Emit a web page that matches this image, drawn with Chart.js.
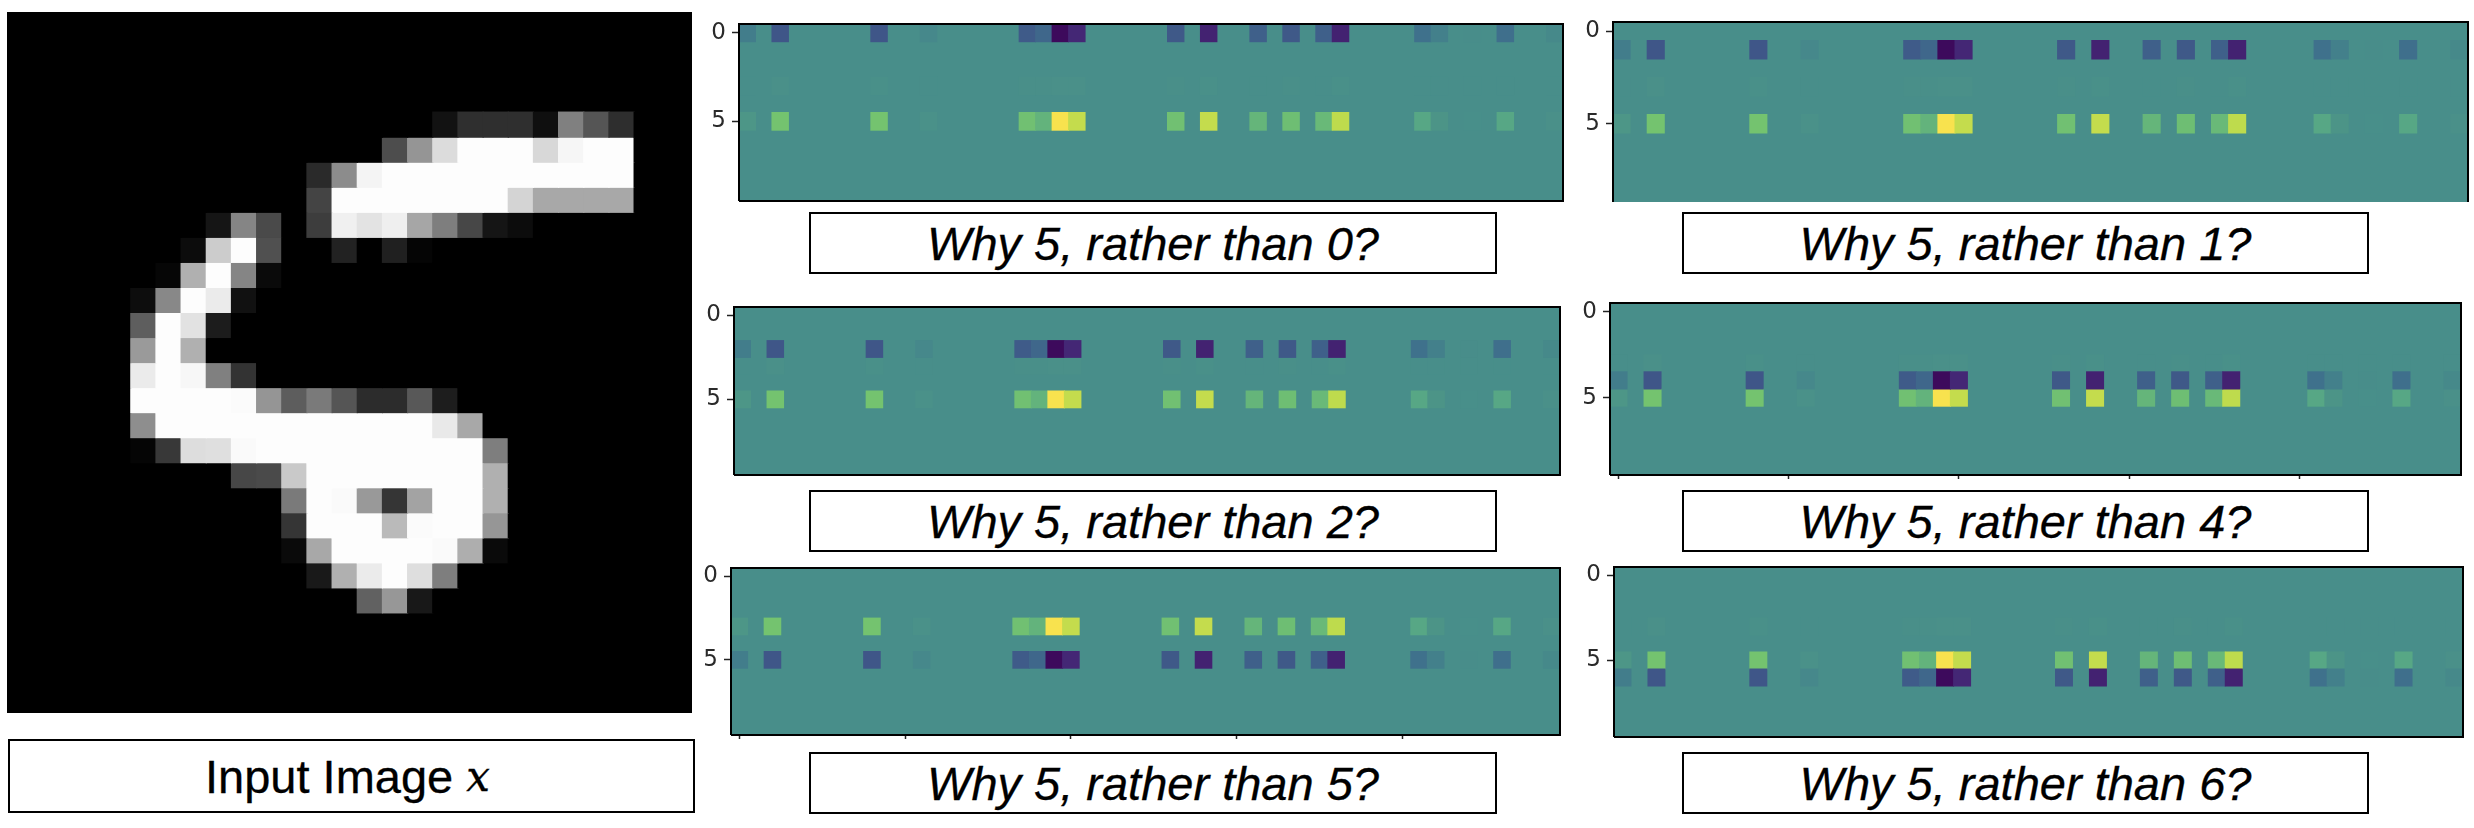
<!DOCTYPE html>
<html>
<head>
<meta charset="utf-8">
<title>Why 5, rather than ...?</title>
<script src="https://cdn.jsdelivr.net/npm/chart.js@4"></script>
<style>
  html, body { margin: 0; padding: 0; background: #fff; width: 2474px; height: 828px; overflow: hidden; }
  canvas { position: absolute; }
  .plot { filter: blur(0.6px); }
  .caption {
    position: absolute; box-sizing: border-box; border: 2px solid #000; background: #fff;
    display: flex; align-items: center; justify-content: center;
    font: 47px "Liberation Sans", Arial, sans-serif; color: #000; white-space: pre;
    -webkit-text-stroke: 0.3px #000;
  }
  .why { font-style: italic; }
  .input { padding-right: 8px; }
  .caption .math { font-family: "DejaVu Serif", serif; font-style: italic; font-size: 42px; }
</style>
</head>
<body>
<script>
// Input digit, grey level per pixel, rows 0-27 (rows 0-3 and 24-27 are all black)
const digitFirstRow = 4;
const digitRows = [
  [0,0,0,0,0,0,0,0,0,0,0,0,0,0,0,0,0,18,47,47,47,15,128,85,46,0,0,0],
  [0,0,0,0,0,0,0,0,0,0,0,0,0,0,0,77,149,220,253,253,253,216,246,253,253,0,0,0],
  [0,0,0,0,0,0,0,0,0,0,0,0,42,140,244,253,253,253,253,253,253,253,253,253,253,0,0,0],
  [0,0,0,0,0,0,0,0,0,0,0,0,68,253,253,253,253,253,253,253,212,168,168,168,168,0,0,0],
  [0,0,0,0,0,0,0,0,21,133,74,0,61,240,227,239,166,126,71,21,12,0,0,0,0,0,0,0],
  [0,0,0,0,0,0,0,12,204,253,80,0,0,34,0,32,5,0,0,0,0,0,0,0,0,0,0,0],
  [0,0,0,0,0,0,6,176,253,133,10,0,0,0,0,0,0,0,0,0,0,0,0,0,0,0,0,0],
  [0,0,0,0,0,13,136,253,235,17,0,0,0,0,0,0,0,0,0,0,0,0,0,0,0,0,0,0],
  [0,0,0,0,0,94,253,226,28,0,0,0,0,0,0,0,0,0,0,0,0,0,0,0,0,0,0,0],
  [0,0,0,0,0,154,253,176,0,0,0,0,0,0,0,0,0,0,0,0,0,0,0,0,0,0,0,0],
  [0,0,0,0,0,235,253,247,128,51,0,0,0,0,0,0,0,0,0,0,0,0,0,0,0,0,0,0],
  [0,0,0,0,0,253,253,253,253,251,149,93,122,85,44,44,88,29,0,0,0,0,0,0,0,0,0,0],
  [0,0,0,0,0,142,253,253,253,253,253,253,253,253,253,253,253,233,168,0,0,0,0,0,0,0,0,0],
  [0,0,0,0,0,5,56,221,223,250,253,253,253,253,253,253,253,253,253,126,0,0,0,0,0,0,0,0],
  [0,0,0,0,0,0,0,0,0,71,74,201,253,253,253,253,253,253,253,176,0,0,0,0,0,0,0,0],
  [0,0,0,0,0,0,0,0,0,0,0,122,253,250,153,53,163,253,253,176,0,0,0,0,0,0,0,0],
  [0,0,0,0,0,0,0,0,0,0,0,53,253,253,253,186,251,253,253,150,0,0,0,0,0,0,0,0],
  [0,0,0,0,0,0,0,0,0,0,0,10,168,253,253,253,253,250,174,10,0,0,0,0,0,0,0,0],
  [0,0,0,0,0,0,0,0,0,0,0,0,25,176,235,253,222,126,0,0,0,0,0,0,0,0,0,0],
  [0,0,0,0,0,0,0,0,0,0,0,0,0,0,97,151,24,0,0,0,0,0,0,0,0,0,0,0]
];

// Contrastive heat maps: same columns in every panel, only the rows move
const contrastClasses = [0, 1, 2, 4, 5, 6];
const negativeRows = [0, 1, 2, 4, 5, 6];
const positiveRows = [5, 5, 5, 5, 3, 5];
const faintRows = [3, 3, 3, 3, null, 3];
const contrastColumns = [0, 2, 8, 11, 17, 18, 19, 20, 26, 28, 31, 33, 35, 36, 41, 42, 44, 46, 49];
const positiveValues = [0.12, 0.55, 0.55, 0.05, 0.52, 0.4, 1, 0.82, 0.52, 0.82, 0.42, 0.5, 0.45, 0.8, 0.28, 0.1, 0.01, 0.28, 0.04];
const negativeValues = [-0.15, -0.55, -0.55, -0.05, -0.5, -0.38, -1, -0.82, -0.52, -0.85, -0.45, -0.52, -0.45, -0.85, -0.28, -0.12, -0.01, -0.3, -0.04];
const faintValues = [0, 0.04, 0.03, 0, 0.02, 0.02, 0.04, 0.04, 0.02, 0.03, 0, 0.02, 0, 0.03, 0, 0, 0, 0, 0];
const heatTicks = [0, 5];
const columnTicks = [0, 10, 20, 30, 40];

// Layout, in page pixels
const gutter = 40;
const pad = 3;
const panels = [
  { left: 739, right: 1563, top: 24, bottom: 201, yEnd: 9.5, ticks: false, bottomSpine: true },
  { left: 1613, right: 2468, top: 22, bottom: 202, yEnd: 9.23, ticks: false, bottomSpine: false },
  { left: 734, right: 1560, top: 307, bottom: 475, yEnd: 9.5, ticks: false, bottomSpine: true },
  { left: 1610, right: 2461, top: 303, bottom: 475, yEnd: 9.5, ticks: true, bottomSpine: true },
  { left: 731, right: 1560, top: 568, bottom: 735, yEnd: 9.5, ticks: true, bottomSpine: true },
  { left: 1614, right: 2463, top: 567, bottom: 737, yEnd: 9.5, ticks: false, bottomSpine: true }
];
const captionBoxes = [
  { left: 809, width: 688, top: 212, height: 62 },
  { left: 1682, width: 687, top: 212, height: 62 },
  { left: 809, width: 688, top: 490, height: 62 },
  { left: 1682, width: 687, top: 490, height: 62 },
  { left: 809, width: 688, top: 752, height: 62 },
  { left: 1682, width: 687, top: 752, height: 62 }
];

const colorStops = [
  [-1, [61, 10, 92]], [-0.8, [69, 42, 120]], [-0.55, [63, 86, 136]], [-0.3, [63, 111, 140]],
  [-0.1, [67, 130, 139]], [0, [72, 142, 138]], [0.1, [76, 148, 135]], [0.3, [88, 169, 133]],
  [0.55, [116, 195, 111]], [0.8, [190, 219, 77]], [1, [248, 226, 78]]
];

function heatColor(v) {
  for (let i = 1; i < colorStops.length; i++) {
    const [v0, c0] = colorStops[i - 1];
    const [v1, c1] = colorStops[i];
    if (v <= v1) {
      const t = (v - v0) / (v1 - v0);
      return `rgb(${c0.map((c, k) => Math.round(c + (c1[k] - c) * t)).join(",")})`;
    }
  }
  return "rgb(248,226,78)";
}

// backdrop behind the cells and black axes frame
const framePlugin = {
  id: "frame",
  beforeDatasetsDraw(chart, args, opts) {
    const a = chart.chartArea;
    chart.ctx.fillStyle = opts.fill;
    chart.ctx.fillRect(a.left, a.top, a.right - a.left, a.bottom - a.top);
  },
  afterDraw(chart, args, opts) {
    if (!opts.spine) return;
    const a = chart.chartArea;
    const ctx = chart.ctx;
    ctx.save();
    ctx.strokeStyle = "#000";
    ctx.lineWidth = 2;
    ctx.beginPath();
    ctx.moveTo(a.left, a.bottom);
    ctx.lineTo(a.left, a.top);
    ctx.lineTo(a.right, a.top);
    ctx.lineTo(a.right, a.bottom);
    if (opts.bottomSpine) ctx.lineTo(a.left, a.bottom);
    ctx.stroke();
    ctx.restore();
  }
};

function addCanvas(left, top, width, height, cls) {
  const canvas = document.createElement("canvas");
  canvas.className = cls;
  canvas.width = width;
  canvas.height = height;
  canvas.style.left = left + "px";
  canvas.style.top = top + "px";
  canvas.style.width = width + "px";
  canvas.style.height = height + "px";
  document.body.appendChild(canvas);
  return canvas;
}

function cellRow(row, columns, values) {
  return {
    data: columns.map((col) => ({ x: col, y: [row - 0.5, row + 0.5] })),
    backgroundColor: values.map(heatColor),
    grouped: false,
    borderWidth: 0,
    inflateAmount: 0.5,
    barPercentage: 1,
    categoryPercentage: 1
  };
}

function drawInputImage() {
  const canvas = addCanvas(7, 12, 685, 701, "plot");
  const cols = digitRows[0].map((_, i) => i);
  const datasets = digitRows.map((greys, i) => ({
    data: cols.map((col) => ({ x: col, y: [digitFirstRow + i - 0.5, digitFirstRow + i + 0.5] })),
    backgroundColor: greys.map((g) => `rgb(${g},${g},${g})`),
    grouped: false,
    borderWidth: 0,
    inflateAmount: 0.6,
    barPercentage: 1,
    categoryPercentage: 1
  }));
  new Chart(canvas, {
    type: "bar",
    data: { datasets },
    plugins: [framePlugin],
    options: {
      responsive: false,
      animation: false,
      layout: { padding: 0 },
      scales: {
        x: { type: "linear", offset: false, min: -0.42, max: 26.8, display: false },
        y: { type: "linear", min: -0.5, max: 27.5, reverse: true, display: false }
      },
      plugins: { legend: { display: false }, tooltip: { enabled: false }, frame: { fill: "#000", spine: false } }
    }
  });
}

function drawPanel(index) {
  const box = panels[index];
  const width = box.right - box.left + gutter + pad;
  const height = box.bottom - box.top + pad + 8;
  const canvas = addCanvas(box.left - gutter, box.top - pad, width, height, "plot");

  const datasets = [
    cellRow(negativeRows[index], contrastColumns, negativeValues),
    cellRow(positiveRows[index], contrastColumns, positiveValues)
  ];
  if (faintRows[index] !== null) {
    datasets.push(cellRow(faintRows[index], contrastColumns, faintValues));
  }

  new Chart(canvas, {
    type: "bar",
    data: { datasets },
    plugins: [framePlugin],
    options: {
      responsive: false,
      animation: false,
      layout: { padding: { top: pad, right: pad, left: 0, bottom: 0 } },
      scales: {
        x: {
          type: "linear",
          offset: false,
          min: -0.5,
          max: 49.5,
          afterBuildTicks: (axis) => { axis.ticks = columnTicks.map((value) => ({ value })); },
          afterFit: (axis) => { axis.height = 8; axis.paddingLeft = 0; axis.paddingRight = 0; },
          border: { display: false },
          grid: { offset: false, drawOnChartArea: false, tickLength: 4, tickWidth: 1.5, color: box.ticks ? "#222" : "rgba(0,0,0,0)" },
          ticks: { display: false }
        },
        y: {
          type: "linear",
          min: -0.5,
          max: box.yEnd,
          reverse: true,
          afterBuildTicks: (axis) => { axis.ticks = heatTicks.map((value) => ({ value })); },
          afterFit: (axis) => { axis.width = gutter; axis.paddingTop = 0; axis.paddingBottom = 0; },
          border: { display: false },
          grid: { drawOnChartArea: false, tickLength: 7, tickWidth: 1.5, color: "#222" },
          ticks: { padding: 6, color: "#2a2a2a", font: { family: "DejaVu Sans", size: 23 }, autoSkip: false }
        }
      },
      plugins: {
        legend: { display: false },
        tooltip: { enabled: false },
        frame: { fill: heatColor(0), spine: true, bottomSpine: box.bottomSpine }
      }
    }
  });
}

function addCaption(box, html, cls) {
  const div = document.createElement("div");
  div.className = "caption " + cls;
  div.style.left = box.left + "px";
  div.style.top = box.top + "px";
  div.style.width = box.width + "px";
  div.style.height = box.height + "px";
  div.innerHTML = html;
  document.body.appendChild(div);
}

drawInputImage();
addCaption({ left: 8, width: 687, top: 739, height: 74 }, 'Input Image <span class="math">x</span>', "input");

contrastClasses.forEach((digit, i) => {
  drawPanel(i);
  addCaption(captionBoxes[i], `Why 5, rather than ${digit}?`, "why");
});
</script>
</body>
</html>
